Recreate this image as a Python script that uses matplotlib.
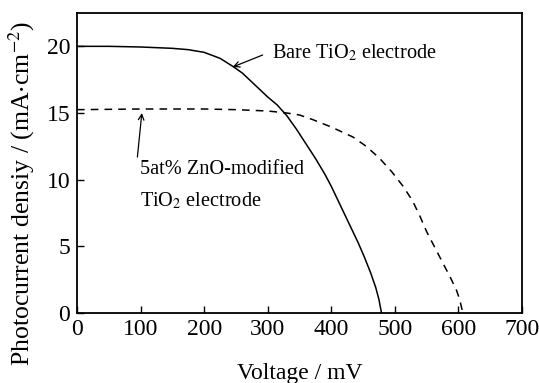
import matplotlib.pyplot as plt

plt.rcParams['font.family'] = ['Liberation Serif', 'DejaVu Serif']
plt.rcParams['mathtext.fontset'] = 'stix'

# J-V curve, bare TiO2 electrode (mV, mA/cm2)
bare_v = [0, 50, 100, 150, 175, 200, 225, 245, 260, 280, 300, 315, 330, 345, 360,
          375, 390, 400, 410, 420, 430, 442, 452, 462, 470, 475, 479]
bare_j = [20.0, 20.0, 19.95, 19.85, 19.75, 19.55, 19.1, 18.5, 18.0, 17.1, 16.2, 15.6,
          14.8, 13.8, 12.7, 11.6, 10.4, 9.5, 8.5, 7.5, 6.5, 5.3, 4.2, 3.0, 1.9, 1.0, 0.0]

# J-V curve, 5at% ZnO-modified TiO2 electrode
zno_v = [0, 100, 200, 250, 300, 330, 350, 371, 400, 434, 455, 476, 495, 513, 528,
         540, 550, 563, 576, 587, 597, 602, 607]
zno_j = [15.25, 15.3, 15.3, 15.25, 15.15, 15.0, 14.85, 14.5, 13.95, 13.2, 12.5, 11.6,
         10.6, 9.5, 8.4, 7.2, 6.1, 4.9, 3.7, 2.7, 1.7, 1.0, 0.0]

fig = plt.figure(figsize=(5.39, 3.83), dpi=100)
ax = fig.add_axes([77/539, 1-313/383, 445/539, 300/383])

ax.plot(bare_v, bare_j, color='black', lw=1.1)
ax.plot(zno_v, zno_j, color='black', lw=1.1, ls=(0, (5, 4)))

ax.set_xlim(0, 700)
ax.set_ylim(0, 22.5)
ax.set_xticks(range(0, 701, 100))
ax.set_yticks([0, 5, 10, 15, 20])
ax.tick_params(direction='in', length=5, width=1, labelsize=17, top=False, right=False)
ax.tick_params(axis='x', pad=4)
ax.tick_params(axis='y', pad=5)
for s in ax.spines.values():
    s.set_linewidth(1.3)

ax.set_xlabel('Voltage / mV', fontsize=17)
ax.xaxis.set_label_coords(0.5, -0.168)
ax.set_ylabel('Photocurrent densiy / (mA$\\cdot$cm$^{-2}$)', fontsize=18.5)
ax.yaxis.set_label_coords(-0.09, 0.4)

arrow = dict(arrowstyle='->', color='black', lw=0.9, shrinkA=0, shrinkB=0)
ax.text(306, 19.5, 'Bare TiO$_2$ electrode', fontsize=14.6, va='center', ha='left')
ax.annotate('', xy=(245, 18.45), xytext=(292, 19.35), arrowprops=arrow)

ax.text(99, 9.55, '5at% ZnO-modified\nTiO$_2$ electrode', fontsize=14.6,
        va='center', ha='left', linespacing=1.75)
ax.annotate('', xy=(102, 15.0), xytext=(95, 11.7), arrowprops=arrow)

fig.savefig('out.png', dpi=100)
